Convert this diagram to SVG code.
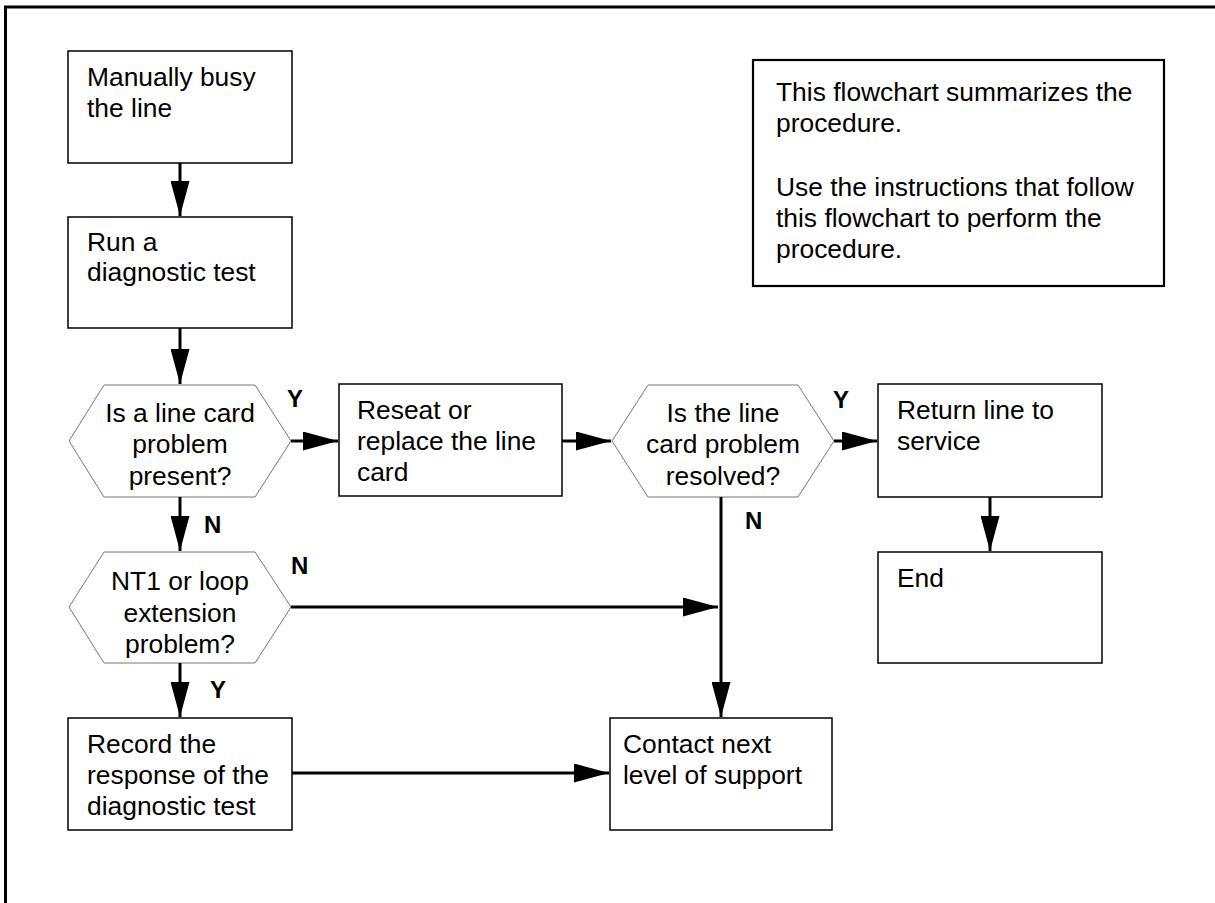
<svg xmlns="http://www.w3.org/2000/svg" width="1215" height="903" viewBox="0 0 1215 903">
  <style>
    .box { fill: #fff; stroke: #000; stroke-width: 1.5; }
    .note { fill: #fff; stroke: #000; stroke-width: 2.2; }
    .hex { fill: #fff; stroke: #777; stroke-width: 1; }
    .frame { fill: none; stroke: #000; stroke-width: 3; }
    .conn { fill: none; stroke: #000; stroke-width: 3; }
    .txt { font-family: "Liberation Sans", Arial, sans-serif; font-size: 26.4px; fill: #000; }
    .mid { text-anchor: middle; }
    .lbl { font-family: "Liberation Sans", Arial, sans-serif; font-size: 24px; font-weight: bold; fill: #000; }
  </style>
  <defs>
    <marker id="arrow" markerUnits="userSpaceOnUse" markerWidth="35" markerHeight="19" refX="35" refY="9.5" orient="auto">
      <path d="M0,0 L35,9.5 L0,19 z" fill="#000"/>
    </marker>
  </defs>

  <rect width="1215" height="903" fill="#fff"/>
  <path class="frame" d="M5.5,903 V7 H1215"/>

  <g id="note">
    <rect class="note" x="753" y="60" width="411" height="226"/>
    <text class="txt" x="776" y="101">This flowchart summarizes the</text>
    <text class="txt" x="776" y="132">procedure.</text>
    <text class="txt" x="776" y="196">Use the instructions that follow</text>
    <text class="txt" x="776" y="227">this flowchart to perform the</text>
    <text class="txt" x="776" y="258">procedure.</text>
  </g>

  <g id="busy-line">
    <rect class="box" x="68" y="51" width="224" height="112"/>
    <text class="txt" x="87" y="86">Manually busy</text>
    <text class="txt" x="87" y="117">the line</text>
  </g>

  <g id="run-test">
    <rect class="box" x="68" y="217" width="224" height="111"/>
    <text class="txt" x="87" y="251">Run a</text>
    <text class="txt" x="87" y="281">diagnostic test</text>
  </g>

  <g id="card-problem">
    <polygon class="hex" points="69,441 104,385 255,385 291,441 255,497 104,497"/>
    <text class="txt mid" x="180" y="422">Is a line card</text>
    <text class="txt mid" x="180" y="453">problem</text>
    <text class="txt mid" x="180" y="485">present?</text>
  </g>

  <g id="reseat">
    <rect class="box" x="339" y="384" width="223" height="112"/>
    <text class="txt" x="357" y="419">Reseat or</text>
    <text class="txt" x="357" y="450">replace the line</text>
    <text class="txt" x="357" y="481">card</text>
  </g>

  <g id="resolved">
    <polygon class="hex" points="612,441 648,385 798,385 834,441 798,497 648,497"/>
    <text class="txt mid" x="723" y="422">Is the line</text>
    <text class="txt mid" x="723" y="453">card problem</text>
    <text class="txt mid" x="723" y="485">resolved?</text>
  </g>

  <g id="return-service">
    <rect class="box" x="878" y="384" width="224" height="113"/>
    <text class="txt" x="897" y="419">Return line to</text>
    <text class="txt" x="897" y="450">service</text>
  </g>

  <g id="end">
    <rect class="box" x="878" y="552" width="224" height="111"/>
    <text class="txt" x="897" y="587">End</text>
  </g>

  <g id="loop-problem">
    <polygon class="hex" points="69,607 104,552 255,552 291,607 255,663 104,663"/>
    <text class="txt mid" x="180" y="590">NT1 or loop</text>
    <text class="txt mid" x="180" y="622">extension</text>
    <text class="txt mid" x="180" y="653">problem?</text>
  </g>

  <g id="record">
    <rect class="box" x="68" y="718" width="224" height="112"/>
    <text class="txt" x="87" y="753">Record the</text>
    <text class="txt" x="87" y="784">response of the</text>
    <text class="txt" x="87" y="815">diagnostic test</text>
  </g>

  <g id="contact">
    <rect class="box" x="610" y="718" width="222" height="112"/>
    <text class="txt" x="623" y="753">Contact next</text>
    <text class="txt" x="623" y="784">level of support</text>
  </g>

  <g id="connectors">
    <line class="conn" x1="180" y1="163" x2="180" y2="216" marker-end="url(#arrow)"/>
    <line class="conn" x1="180" y1="328" x2="180" y2="384" marker-end="url(#arrow)"/>
    <line class="conn" x1="291" y1="441" x2="338" y2="441" marker-end="url(#arrow)"/>
    <line class="conn" x1="562" y1="441" x2="611" y2="441" marker-end="url(#arrow)"/>
    <line class="conn" x1="834" y1="441" x2="877" y2="441" marker-end="url(#arrow)"/>
    <line class="conn" x1="990" y1="497" x2="990" y2="551" marker-end="url(#arrow)"/>
    <line class="conn" x1="180" y1="497" x2="180" y2="551" marker-end="url(#arrow)"/>
    <line class="conn" x1="291" y1="607" x2="718" y2="607" marker-end="url(#arrow)"/>
    <line class="conn" x1="721" y1="497" x2="721" y2="717" marker-end="url(#arrow)"/>
    <line class="conn" x1="180" y1="663" x2="180" y2="717" marker-end="url(#arrow)"/>
    <line class="conn" x1="292" y1="773" x2="609" y2="773" marker-end="url(#arrow)"/>
  </g>

  <g id="branch-labels">
    <text class="lbl" x="287" y="407">Y</text>
    <text class="lbl" x="204" y="533">N</text>
    <text class="lbl" x="291" y="574">N</text>
    <text class="lbl" x="833" y="408">Y</text>
    <text class="lbl" x="745" y="529">N</text>
    <text class="lbl" x="210" y="698">Y</text>
  </g>
</svg>
